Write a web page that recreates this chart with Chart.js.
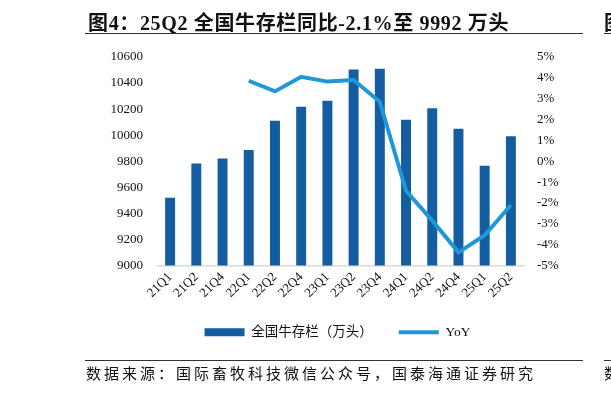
<!DOCTYPE html>
<html>
<head>
<meta charset="utf-8">
<script src="https://cdn.jsdelivr.net/npm/chart.js@4"></script>
<style>
  html, body { margin: 0; padding: 0; background: #fff; }
  #page { position: relative; width: 611px; height: 393px; overflow: hidden; }
  #c { position: absolute; left: 0; top: 0; }
  .serif { font-family: 'Liberation Serif', 'Noto Sans CJK SC', serif; color: #111; }
  #title { position: absolute; left: 88px; top: 7px; font-size: 20px; letter-spacing: 0.65px; font-weight: bold; white-space: nowrap; }
  #title2 { position: absolute; left: 604px; top: 7px; font-size: 20px; font-weight: bold; }
  .rule { position: absolute; height: 1px; background: #333; }
  #src { position: absolute; left: 86px; top: 362px; font-size: 15px; letter-spacing: 3px; white-space: nowrap; }
  #src2 { position: absolute; left: 604px; top: 362px; font-size: 15px; }
</style>
</head>
<body>
<div id="page">
  <canvas id="c" width="611" height="393"></canvas>
  <div id="title" class="serif">图4：25Q2 全国牛存栏同比-2.1%至 9992 万头</div>
  <div id="title2" class="serif">图</div>
  <div class="rule" style="left:85px; top:33px; width:498px;"></div>
  <div class="rule" style="left:604px; top:33px; width:10px;"></div>
  <div class="rule" style="left:85px; top:360px; width:498px;"></div>
  <div class="rule" style="left:604px; top:360px; width:10px;"></div>
  <div id="src" class="serif">数据来源：国际畜牧科技微信公众号，国泰海通证券研究</div>
  <div id="src2" class="serif">数</div>
</div>
<script>
// 全国牛存栏 — 季度
const QUARTERS = ['21Q1', '21Q2', '21Q4', '22Q1', '22Q2', '22Q4', '23Q1', '23Q2', '23Q4', '24Q1', '24Q2', '24Q4', '25Q1', '25Q2'];
const STOCK = [9520, 9783, 9821, 9887, 10111, 10219, 10265, 10505, 10509, 10119, 10206, 10050, 9765, 9992];
const YOY = [null, null, null, 3.86, 3.35, 4.05, 3.82, 3.9, 2.85, -1.42, -2.85, -4.37, -3.55, -2.1];

const BAR_BLUE = '#145DA0';
const LINE_BLUE = '#1E98D8';
const FONT = "'Liberation Serif', 'Noto Sans CJK SC', serif";

Chart.defaults.font.family = FONT;
Chart.defaults.color = '#111';

new Chart(document.getElementById('c'), {
  data: {
    labels: QUARTERS,
    datasets: [
      {
        type: 'bar', label: '全国牛存栏（万头）', data: STOCK, yAxisID: 'y',
        backgroundColor: BAR_BLUE, borderWidth: 0,
        barPercentage: 0.38, categoryPercentage: 1, order: 1,
      },
      {
        type: 'line', label: 'YoY', data: YOY, yAxisID: 'y1',
        borderColor: LINE_BLUE, backgroundColor: LINE_BLUE, borderWidth: 4,
        pointRadius: 0, tension: 0, spanGaps: false, order: 0,
      },
    ],
  },
  options: {
    responsive: false, animation: false,
    layout: { padding: { left: 64, right: 0, top: 57, bottom: 44 } },
    plugins: {
      tooltip: { enabled: false },
      legend: {
        position: 'bottom',
        labels: {
          usePointStyle: true, pointStyleWidth: 40, boxHeight: 8, padding: 26,
          font: { size: 13.5 }, color: '#111',
          generateLabels: chart => {
            const items = Chart.defaults.plugins.legend.labels.generateLabels(chart);
            items.forEach(it => {
              const ds = chart.data.datasets[it.datasetIndex];
              if (ds.type === 'line') {
                it.pointStyle = 'line'; it.lineWidth = 4; it.strokeStyle = LINE_BLUE;
              } else {
                it.pointStyle = 'rect'; it.lineWidth = 0; it.fillStyle = BAR_BLUE; it.strokeStyle = BAR_BLUE;
              }
            });
            return items.sort((a, b) => a.datasetIndex - b.datasetIndex);
          },
        },
      },
    },
    scales: {
      x: {
        grid: { display: false, drawTicks: false },
        border: { color: '#d9d9d9', width: 1.5 },
        ticks: { minRotation: 45, maxRotation: 45, autoSkip: false, padding: 4, font: { size: 13 }, color: '#111' },
        afterFit: s => { s.height = 34; },
      },
      y: {
        position: 'left', min: 9000, max: 10600,
        grid: { display: false, drawTicks: false },
        border: { display: false },
        ticks: { stepSize: 200, padding: 14, font: { size: 13 }, color: '#111', callback: v => String(v) },
        afterFit: s => { s.width = 93; },
      },
      y1: {
        position: 'right', min: -5, max: 5,
        grid: { display: false, drawTicks: false },
        border: { display: false },
        ticks: { stepSize: 1, padding: 13, font: { size: 13 }, color: '#111', callback: v => v + '%' },
        afterFit: s => { s.width = 87; },
      },
    },
  },
});
</script>
</body>
</html>
